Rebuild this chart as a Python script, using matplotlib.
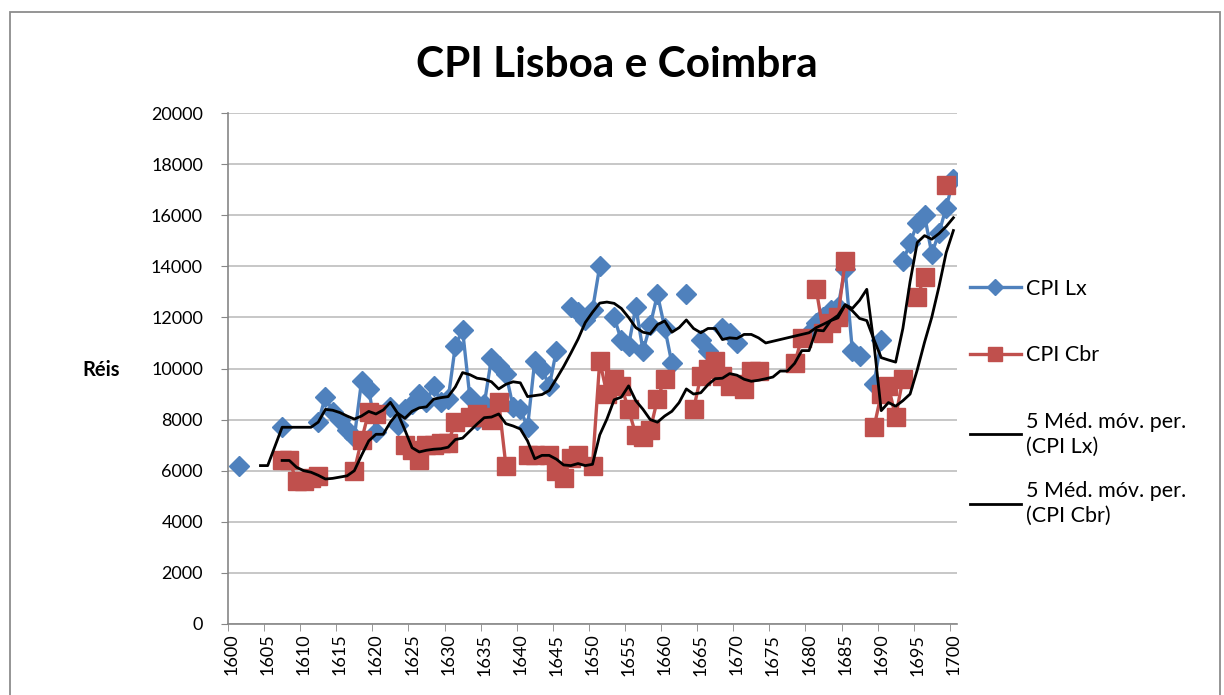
import numpy as np
import pandas as pd
import matplotlib
matplotlib.use("Agg")
import matplotlib.pyplot as plt
from matplotlib.patches import Rectangle

plt.rcParams['font.family'] = ['Lato', 'DejaVu Sans']

# categories: every year 1600-1700
years = np.arange(1600, 1701)
tick_years = np.arange(1600, 1701, 5)
y_ticks = np.arange(0, 20001, 2000)

# CPI Lisboa (réis), only the years that have a value
lx_years = [1601, 1607, 1612, 1613, 1614, 1615, 1616, 1617, 1618, 1619,
            1620, 1622, 1623, 1624, 1625, 1626, 1627, 1628, 1629, 1630,
            1631, 1632, 1633, 1634, 1635, 1636, 1637, 1638, 1639, 1640,
            1641, 1642, 1643, 1644, 1645, 1647, 1648, 1649, 1650, 1651,
            1653, 1654, 1655, 1656, 1657, 1658, 1659, 1660, 1661, 1663,
            1665, 1666, 1668, 1669, 1670, 1680, 1681, 1682, 1683, 1684,
            1685, 1686, 1687, 1689, 1690, 1693, 1694, 1695, 1696, 1697,
            1698, 1699, 1700]
lx_vals = [6200, 7700, 7900, 8900, 8300, 8000, 7600, 7300, 9500, 9200,
           7500, 8500, 7800, 8400, 8600, 9000, 8700, 9300, 8700, 8800,
           10900, 11500, 8900, 8000, 8600, 10400, 10100, 9800, 8500, 8400,
           7700, 10300, 10000, 9300, 10700, 12400, 12200, 11900, 12300, 14000,
           12000, 11100, 10900, 12400, 10700, 11700, 12900, 11600, 10200, 12900,
           11100, 10700, 11600, 11400, 11000, 11400, 11800, 12000, 12300, 12400,
           13900, 10700, 10500, 9400, 11100, 14200, 14900, 15700, 16000, 14500,
           15300, 16300, 17400]

# CPI Coimbra (réis)
cbr_years = [1607, 1608, 1609, 1610, 1611, 1612, 1617, 1618, 1619, 1620,
             1624, 1625, 1626, 1627, 1628, 1629, 1630, 1631, 1633, 1634,
             1635, 1636, 1637, 1638, 1641, 1642, 1644, 1645, 1646, 1647,
             1648, 1650, 1651, 1652, 1653, 1654, 1655, 1656, 1657, 1658,
             1659, 1660, 1664, 1665, 1666, 1667, 1668, 1669, 1670, 1671,
             1672, 1673, 1678, 1679, 1681, 1682, 1683, 1684, 1685, 1689,
             1690, 1691, 1692, 1693, 1695, 1696, 1699]
cbr_vals = [6400, 6400, 5600, 5600, 5700, 5800, 6000, 7200, 8300, 8200,
            7000, 6800, 6400, 7000, 7000, 7100, 7100, 7900, 8100, 8200,
            8100, 8000, 8700, 6200, 6600, 6600, 6600, 6000, 5700, 6500,
            6600, 6200, 10300, 9000, 9600, 9300, 8400, 7400, 7300, 7600,
            8800, 9600, 8400, 9700, 10000, 10300, 9700, 9300, 9400, 9200,
            9900, 9900, 10200, 11200, 13100, 11400, 11800, 12000, 14200, 7700,
            9000, 9300, 8100, 9600, 12800, 13600, 17200]

lx = pd.Series(lx_vals, index=lx_years, dtype=float).reindex(years)
cbr = pd.Series(cbr_vals, index=cbr_years, dtype=float).reindex(years)


def moving_avg(s, n=5):
    # 5-period moving average over the categories, blanks skipped
    ma = s.rolling(n, min_periods=1).mean()
    ma.iloc[:n - 1] = np.nan
    return ma.dropna()


ma_lx = moving_avg(lx)
ma_cbr = moving_avg(cbr)

W, H = 1224, 695
fig = plt.figure(figsize=(W / 100, H / 100), dpi=100)
ax = fig.add_axes([228 / W, 1 - 624 / H, (957 - 228) / W, (624 - 113) / H])

h1, = ax.plot(years, lx.values, color='#4F81BD', lw=2.4, marker='D', ms=10,
              label='CPI Lx', zorder=3)
h2, = ax.plot(years, cbr.values, color='#C0504D', lw=2.4, marker='s', ms=12.5,
              label='CPI Cbr', zorder=4)
h3, = ax.plot(ma_lx.index, ma_lx.values, color='black', lw=2.0,
              label='5 Méd. móv. per.\n(CPI Lx)', zorder=5)
h4, = ax.plot(ma_cbr.index, ma_cbr.values, color='black', lw=2.0,
              label='5 Méd. móv. per.\n(CPI Cbr)', zorder=5)

ax.set_xlim(1599.5, 1700.5)
ax.set_ylim(0, 20000)
ax.set_yticks(y_ticks)
ax.set_yticklabels([str(v) for v in y_ticks], fontsize=13)
ax.set_xticks(tick_years)
ax.set_xticklabels([str(v) for v in tick_years], rotation=90, fontsize=13)
ax.set_xticks(np.arange(1599.5, 1701, 5), minor=True)
ax.tick_params(axis='x', which='major', length=0, pad=7)
ax.tick_params(axis='x', which='minor', length=5, color='#868686')
ax.tick_params(axis='y', length=5, color='#868686', pad=13)

ax.yaxis.grid(True, color='#bdbdbd', lw=1.2)
ax.set_axisbelow(True)
for side in ['top', 'right']:
    ax.spines[side].set_visible(False)
for side in ['left', 'bottom']:
    ax.spines[side].set_color('#868686')
    ax.spines[side].set_linewidth(1.2)

fig.text(617 / W, 1 - 65 / H, 'CPI Lisboa e Coimbra', ha='center', va='center',
         fontsize=30.5, fontweight='bold')
fig.text(101 / W, 1 - 370 / H, 'Réis', ha='center', va='center',
         fontsize=14.5, fontweight='bold')

leg_kw = dict(loc='upper left', bbox_transform=fig.transFigure, frameon=False,
              fontsize=15.5, handlelength=2.35, handletextpad=0.25,
              borderpad=0, borderaxespad=0, markerscale=0.8)
leg1 = ax.legend([h1, h2, h3], [h1.get_label(), h2.get_label(), h3.get_label()],
                 bbox_to_anchor=(970 / W, 1 - 279 / H), labelspacing=2.15,
                 **leg_kw)
plt.setp(leg1.get_texts(), linespacing=1.3)
ax.add_artist(leg1)
leg2 = ax.legend([h4], [h4.get_label()],
                 bbox_to_anchor=(970 / W, 1 - 481 / H), **leg_kw)
plt.setp(leg2.get_texts(), linespacing=1.3)

fig.patches.append(Rectangle((10 / W, -0.05), (1220 - 10) / W, 1.05 - 12 / H,
                             transform=fig.transFigure, fill=False,
                             edgecolor='#8c8c8c', lw=1.3))

fig.savefig('out.png', dpi=100)
